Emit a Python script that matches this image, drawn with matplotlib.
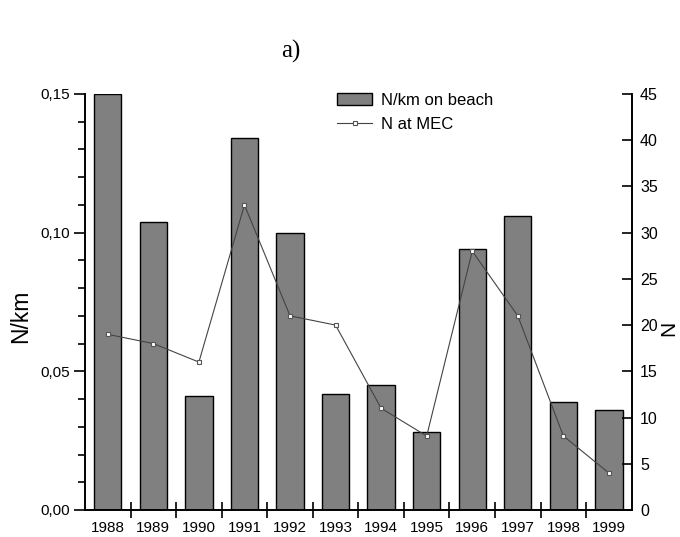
import numpy as np
import matplotlib.pyplot as plt
from matplotlib.ticker import FixedLocator, MultipleLocator, FuncFormatter

years = ['1988', '1989', '1990', '1991', '1992', '1993',
         '1994', '1995', '1996', '1997', '1998', '1999']
nkm_beach = [0.150, 0.104, 0.041, 0.134, 0.100, 0.042,
             0.045, 0.028, 0.094, 0.106, 0.039, 0.036]
n_mec = [19, 18, 16, 33, 21, 20, 11, 8, 28, 21, 8, 4]

plt.rcParams['font.family'] = ['Liberation Sans', 'DejaVu Sans']

fig = plt.figure(figsize=(6.8, 5.37), dpi=100)
ax = fig.add_axes([0.125, 0.0503, 0.804, 0.7747])
ax2 = ax.twinx()

x = np.arange(len(years))
bars = ax.bar(x, nkm_beach, width=0.6, color='#808080', edgecolor='black',
              linewidth=1.0, label='N/km on beach', zorder=2)
line, = ax2.plot(x, n_mec, color='#444444', linewidth=0.8, marker='s',
                 markersize=3.5, markerfacecolor='white', markeredgecolor='#555555',
                 markeredgewidth=0.8, label='N at MEC', zorder=3)

ax.set_xlim(-0.5, 11.5)
ax.set_ylim(0, 0.15)
ax2.set_ylim(0, 45)

# left axis: comma decimals, outward ticks with minors
ax.yaxis.set_major_locator(MultipleLocator(0.05))
ax.yaxis.set_minor_locator(MultipleLocator(0.01))
ax.yaxis.set_major_formatter(FuncFormatter(lambda v, p: ('%.2f' % v).replace('.', ',')))
ax.tick_params(axis='y', which='major', direction='out', length=8, width=1.2, labelsize=11, pad=3)
ax.tick_params(axis='y', which='minor', direction='out', length=5, width=1.2)

# years centred under bars, separator ticks between them
ax.set_xticks(x)
ax.set_xticklabels(years)
ax.xaxis.set_minor_locator(FixedLocator(x[:-1] + 0.5))
ax.tick_params(axis='x', which='major', length=0, labelsize=11, pad=8)
ax.tick_params(axis='x', which='minor', direction='inout', length=11, width=1.2)

ax2.yaxis.set_major_locator(MultipleLocator(5))
ax2.tick_params(axis='y', which='major', direction='in', length=7, width=1.2, labelsize=11.5, pad=6)

for a in (ax, ax2):
    a.spines['top'].set_visible(False)
    for s in ('left', 'right', 'bottom'):
        a.spines[s].set_linewidth(1.2)

fig.text(21 / 680, 1 - 316 / 537, 'N/km', fontsize=16.5, rotation=90, ha='center', va='center')
fig.text(669 / 680, 1 - 328 / 537, 'N', fontsize=15, rotation=90, ha='center', va='center')

fig.text(0.427, 0.905, 'a)', fontsize=18, family=['Liberation Serif'], ha='center', va='center')

fig.legend([bars, line], ['N/km on beach', 'N at MEC'], loc='upper left',
           bbox_to_anchor=(0.474, 0.855), frameon=False, fontsize=12,
           handlelength=2.1, handleheight=0.75, handletextpad=0.5, labelspacing=0.55)

fig.savefig('out.png', dpi=100)
